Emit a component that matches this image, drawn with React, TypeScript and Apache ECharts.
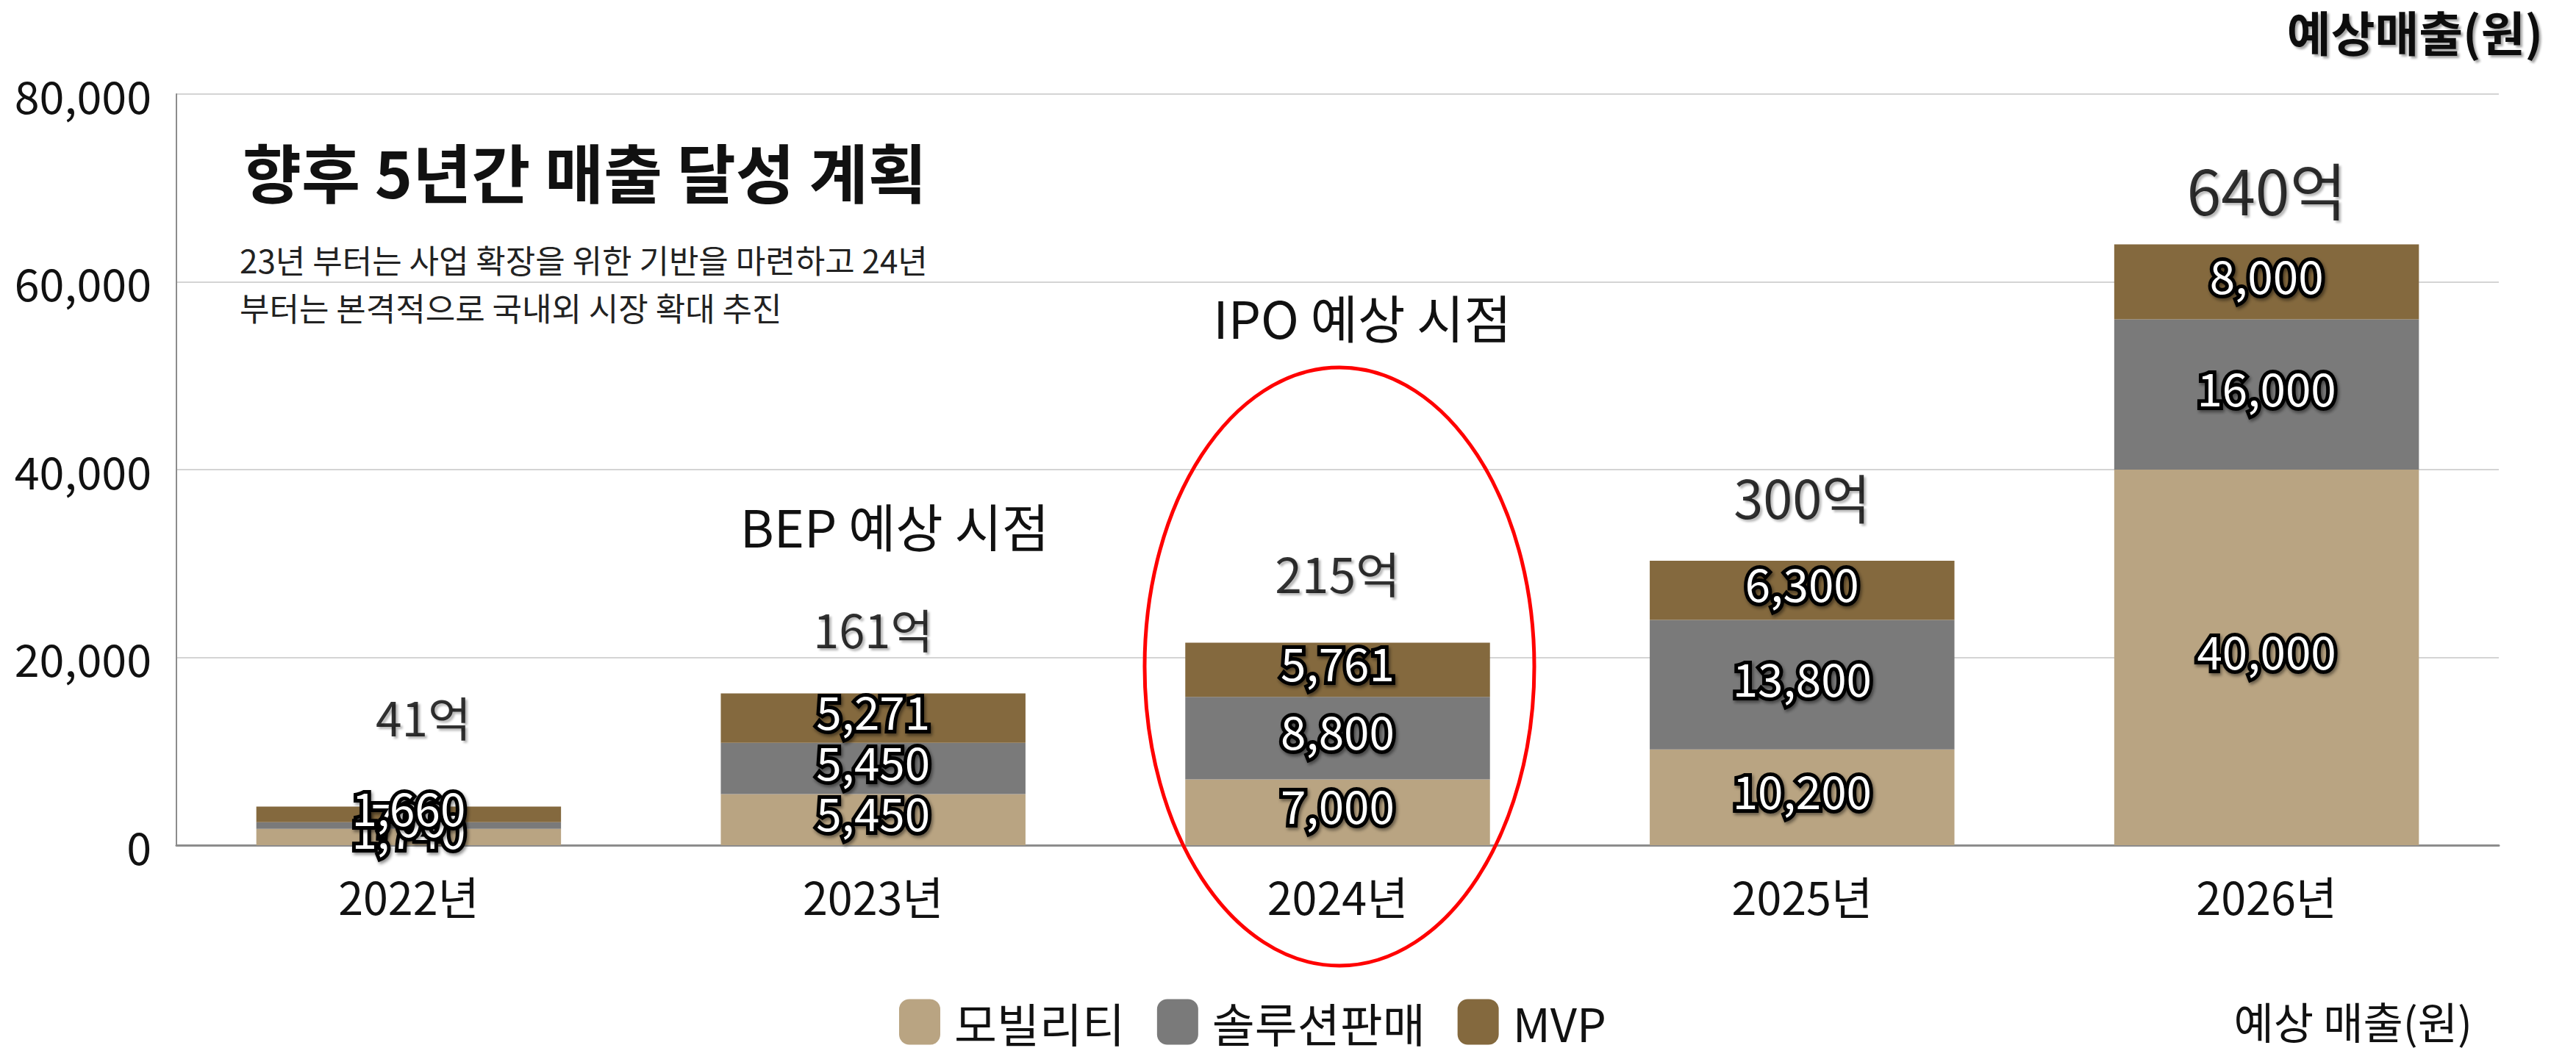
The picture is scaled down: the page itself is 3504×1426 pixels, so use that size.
import React, { useEffect, useRef } from "react";
import * as echarts from "echarts";

// Revenue plan by year, stacked by business line
const years = ["2022년", "2023년", "2024년", "2025년", "2026년"];
const seriesNames = ["모빌리티", "솔루션판매", "MVP"];
const mobility = [1740, 5450, 7000, 10200, 40000];
const solution = [700, 5450, 8800, 13800, 16000];
const mvp = [1660, 5271, 5761, 6300, 8000];
// Yearly totals as printed above each bar (억)
const totalEok = [41, 161, 215, 300, 640];

const yMin = 0;
const yMax = 80000;
const yInterval = 20000;

// Presentation of the total captions: lift above the bar top, sideways nudge, font size
const totalLabelLift = [124, 90, 97, 92, 76];
const totalLabelNudge = [20, 0, 0, 0, 0];
const totalLabelSize = [64, 63, 66, 72, 84];

const colors = ["#B9A482", "#7A7A7A", "#84693E"];
const FONT = "'Noto Sans CJK KR', 'Noto Sans', sans-serif";

const fmt = (v: number) => Number(v).toLocaleString("en-US");

export default function App() {
  const ref = useRef<HTMLDivElement>(null);

  useEffect(() => {
    document.body.style.margin = "0";
    if (!ref.current) return;
    const chart = echarts.init(ref.current, undefined, { renderer: "svg" });

    const barLabel = {
      show: true,
      position: "inside" as const,
      offset: [0, -11],
      formatter: (p: any) => fmt(p.value),
      color: "#ffffff",
      fontFamily: FONT,
      fontSize: 62,
      textBorderColor: "#000000",
      textBorderWidth: 10,
      textShadowColor: "rgba(0,0,0,0.45)",
      textShadowBlur: 4,
      textShadowOffsetX: 2,
      textShadowOffsetY: 3,
    };

    const stackSeries = [mobility, solution, mvp].map((vals, i) => ({
      name: seriesNames[i],
      type: "bar" as const,
      stack: "revenue",
      barCategoryGap: "34.4%",
      itemStyle: { color: colors[i] },
      label: barLabel,
      data: vals,
      z: 2,
    }));

    const caption = (
      x: number,
      y: number,
      text: string,
      fontSize: number,
      align: string,
      extra: Record<string, any> = {}
    ) => ({
      type: "text",
      x,
      y,
      style: {
        text,
        fontFamily: FONT,
        fontSize,
        fill: "#111111",
        textAlign: align,
        textVerticalAlign: "middle",
        ...extra,
      },
    });

    chart.setOption({
      animation: false,
      backgroundColor: "#ffffff",
      textStyle: { fontFamily: FONT },
      grid: { left: 240, right: 105, top: 128, bottom: 276, containLabel: false },
      legend: {
        data: seriesNames,
        left: 1218,
        top: 1354,
        icon: "roundRect",
        itemWidth: 56,
        itemHeight: 62,
        itemGap: 44,
        textStyle: {
          fontFamily: FONT,
          fontSize: 63,
          color: "#111111",
          padding: [0, 0, 0, 14],
        },
      },
      xAxis: {
        type: "category",
        data: years,
        axisLine: { show: true, lineStyle: { color: "#8c8c8c", width: 3 } },
        axisTick: { show: false },
        axisLabel: {
          fontFamily: FONT,
          fontSize: 61,
          color: "#111111",
          margin: 38,
        },
      },
      yAxis: {
        type: "value",
        min: yMin,
        max: yMax,
        interval: yInterval,
        axisLine: { show: true, lineStyle: { color: "#8c8c8c", width: 2 } },
        axisTick: { show: false },
        splitLine: { show: true, lineStyle: { color: "#d4d4d4", width: 2 } },
        axisLabel: {
          fontFamily: FONT,
          fontSize: 61,
          color: "#111111",
          margin: 34,
          padding: [0, 0, 26, 0],
          formatter: (v: number) => fmt(v),
        },
      },
      series: [
        ...stackSeries,
        {
          name: "합계",
          type: "scatter",
          symbolSize: 1,
          itemStyle: { color: "rgba(0,0,0,0)" },
          z: 5,
          data: totalEok.map((v, i) => ({
            value: v * 100,
            label: {
              show: true,
              position: "inside",
              offset: [totalLabelNudge[i], -totalLabelLift[i]],
              formatter: `${v}억`,
              fontFamily: FONT,
              fontSize: totalLabelSize[i],
              color: "#000000",
              textShadowColor: "rgba(0,0,0,0.35)",
              textShadowBlur: 3,
              textShadowOffsetX: 3,
              textShadowOffsetY: 3,
            },
          })),
        },
      ],
      graphic: [
        caption(330, 232, "향후 5년간 매출 달성 계획", 87, "left", { fontWeight: "bold" }),
        caption(326, 353, "23년 부터는 사업 확장을 위한 기반을 마련하고 24년", 44, "left", {
          fill: "#222222",
        }),
        caption(326, 418, "부터는 본격적으로 국내외 시장 확대 추진", 44, "left", {
          fill: "#222222",
        }),
        caption(3459, 42, "예상매출(원)", 65, "right", {
          fontWeight: "bold",
          textShadowColor: "rgba(0,0,0,0.35)",
          textShadowBlur: 3,
          textShadowOffsetX: 3,
          textShadowOffsetY: 3,
        }),
        caption(3363, 1388, "예상 매출(원)", 59, "right"),
        caption(1217, 714, "BEP 예상 시점", 70, "center"),
        caption(1853, 430, "IPO 예상 시점", 70, "center"),
        {
          type: "ellipse",
          z: 100,
          shape: { cx: 1822, cy: 907, rx: 265, ry: 407 },
          style: { fill: "none", stroke: "#ff0000", lineWidth: 5 },
        },
      ],
    });

    return () => chart.dispose();
  }, []);

  return <div ref={ref} style={{ width: 3504, height: 1426 }} />;
}
